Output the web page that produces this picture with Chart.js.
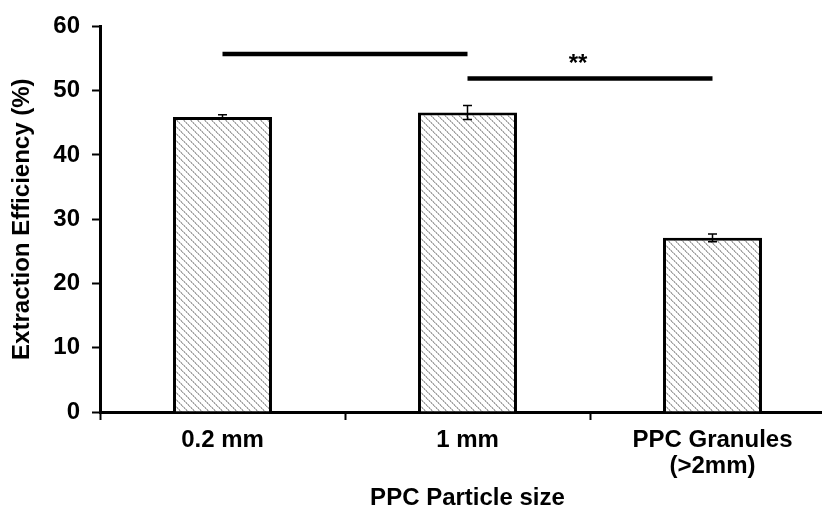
<!DOCTYPE html>
<html>
<head>
<meta charset="utf-8">
<script src="https://cdn.jsdelivr.net/npm/chart.js@4.4.1/dist/chart.umd.min.js"></script>
<style>
  html, body { margin: 0; padding: 0; background: #fff; overflow: hidden; }
  #wrap { width: 822px; height: 514px; overflow: hidden; }
  canvas { display: block; }
</style>
</head>
<body>
<div id="wrap"><canvas id="c" width="840" height="514"></canvas></div>
<script>
// Particle-size categories and mean extraction efficiency (%)
const categories = ["0.2 mm", "1 mm", ["PPC Granules", "(>2mm)"]];
const efficiency = [45.9, 46.6, 27.1];
const efficiencyErr = [0.35, 1.1, 0.6];

// Significance brackets between categories
const sigFrom = [0, 1];
const sigTo = [1, 2];
const sigLevel = [55.7, 51.9];
const sigText = ["", "**"];

const yTicks = [0, 10, 20, 30, 40, 50, 60];

const FONT = "'Liberation Sans', Arial, sans-serif";
const FS = 24;

// Grey diagonal hatching used as the bar fill
function hatchPattern() {
  const n = 7;
  const t = document.createElement('canvas');
  t.width = n; t.height = n;
  const g = t.getContext('2d');
  g.fillStyle = '#ffffff';
  g.fillRect(0, 0, n, n);
  for (let i = 0; i < n; i++) {
    g.fillStyle = (i % 2 === 0) ? '#a0a0a0' : '#c8c8c8';
    g.fillRect(i, i, 1, 1);
    g.fillStyle = (i % 2 === 0) ? '#d4d4d4' : '#acacac';
    g.fillRect((i + 1) % n, i, 1, 1);
  }
  return document.getElementById('c').getContext('2d').createPattern(t, 'repeat');
}

// Error bars and significance brackets drawn through the chart scales
const overlays = {
  id: 'overlays',
  afterDatasetsDraw(chart) {
    const ctx = chart.ctx;
    const xs = chart.scales.x, ys = chart.scales.y;
    ctx.save();
    ctx.strokeStyle = '#000';
    ctx.lineWidth = 1.5;
    efficiency.forEach((v, i) => {
      const x = xs.getPixelForValue(i);
      const yt = ys.getPixelForValue(v + efficiencyErr[i]);
      const yb = ys.getPixelForValue(v - efficiencyErr[i]);
      ctx.beginPath();
      ctx.moveTo(x, yt); ctx.lineTo(x, yb);
      ctx.moveTo(x - 4.5, yt); ctx.lineTo(x + 4.5, yt);
      ctx.moveTo(x - 4.5, yb); ctx.lineTo(x + 4.5, yb);
      ctx.stroke();
    });
    ctx.lineWidth = 4.5;
    ctx.lineCap = 'butt';
    sigLevel.forEach((lv, k) => {
      const x1 = xs.getPixelForValue(sigFrom[k]);
      const x2 = xs.getPixelForValue(sigTo[k]);
      const y = ys.getPixelForValue(lv);
      ctx.beginPath();
      ctx.moveTo(x1, y); ctx.lineTo(x2, y);
      ctx.stroke();
      if (sigText[k]) {
        ctx.fillStyle = '#000';
        ctx.font = 'bold ' + FS + 'px ' + FONT;
        ctx.textAlign = 'center';
        ctx.textBaseline = 'alphabetic';
        ctx.fillText(sigText[k], (x1 + x2) / 2 - 12, y - 7);
      }
    });
    ctx.restore();
  }
};

new Chart(document.getElementById('c'), {
  type: 'bar',
  data: {
    labels: categories,
    datasets: [{
      data: efficiency,
      backgroundColor: hatchPattern(),
      borderColor: '#000',
      borderWidth: 3,
      borderSkipped: 'start',
      categoryPercentage: 1.0,
      barPercentage: 0.404
    }]
  },
  options: {
    responsive: false,
    animation: false,
    layout: { padding: { top: 22, right: 5, left: 0, bottom: 0 } },
    plugins: { legend: { display: false }, tooltip: { enabled: false } },
    scales: {
      x: {
        offset: true,
        grid: {
          display: true, offset: true, drawOnChartArea: false,
          drawTicks: true, tickLength: 8, tickWidth: 2, tickColor: '#000'
        },
        border: { display: true, color: '#000', width: 3 },
        ticks: {
          color: '#000', padding: 7, maxRotation: 0, autoSkip: false,
          font: { family: FONT, size: FS, weight: 'bold', lineHeight: 1.1 }
        },
        title: {
          display: true, text: 'PPC Particle size', color: '#000',
          font: { family: FONT, size: FS, weight: 'bold' },
          padding: { top: 0, bottom: 1 }
        },
        afterFit(s) { s.height = 102; }
      },
      y: {
        min: 0, max: 60,
        afterBuildTicks(s) { s.ticks = yTicks.map(v => ({ value: v })); },
        grid: {
          display: true, drawOnChartArea: false,
          drawTicks: true, tickLength: 8, tickWidth: 2, tickColor: '#000'
        },
        border: { display: true, color: '#000', width: 3 },
        ticks: {
          color: '#000', padding: 12,
          font: { family: FONT, size: FS, weight: 'bold' }
        },
        title: {
          display: true, text: 'Extraction Efficiency (%)', color: '#000',
          font: { family: FONT, size: FS, weight: 'bold' },
          padding: { top: 8, bottom: 0 }
        },
        afterFit(s) { s.width = 100; }
      }
    }
  },
  plugins: [overlays]
});
</script>
</body>
</html>
